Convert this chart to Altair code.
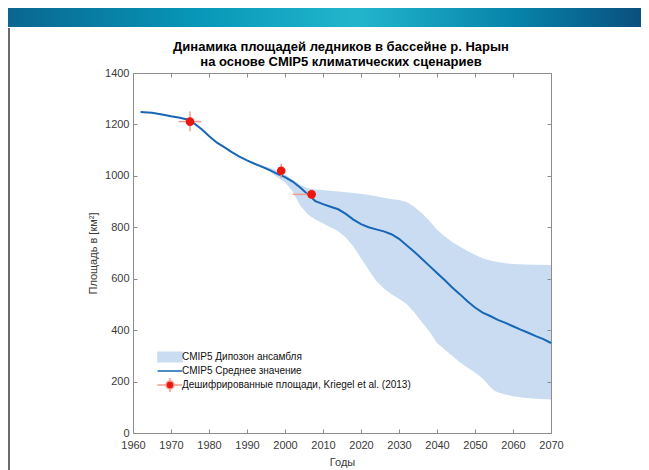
import altair as alt
import pandas as pd

# ---------------- data ----------------
mean_years = [1962, 1965, 1968, 1970, 1972, 1974, 1975, 1976, 1978, 1980, 1982, 1984, 1986,
              1988, 1990, 1992, 1994, 1996, 1998, 2000, 2002, 2004, 2006, 2008, 2010, 2012,
              2014, 2016, 2018, 2020, 2022, 2024, 2026, 2028, 2030, 2032, 2034, 2036, 2038,
              2040, 2042, 2044, 2046, 2048, 2050, 2052, 2054, 2056, 2058, 2060, 2062, 2064,
              2066, 2068, 2070]
mean_vals = [1248, 1245, 1238, 1232, 1227, 1220, 1213, 1205, 1182, 1155, 1130, 1112, 1092,
             1075, 1060, 1047, 1035, 1022, 1008, 995, 978, 955, 928, 902, 890, 880,
             870, 852, 830, 812, 800, 792, 784, 773, 755, 730, 705, 678, 650,
             622, 595, 566, 540, 512, 488, 468, 455, 440, 428, 415, 402, 390,
             377, 365, 350]

band_years = [1993, 1996, 1998, 2000, 2002, 2004, 2006, 2008, 2010, 2012, 2014, 2016, 2018,
              2020, 2022, 2024, 2026, 2028, 2030, 2032, 2034, 2036, 2038, 2040, 2042, 2044,
              2046, 2048, 2050, 2052, 2054, 2055, 2056, 2058, 2060, 2063, 2066, 2070]
band_upper = [1045, 1032, 1020, 1005, 985, 965, 952, 947, 945, 942, 939, 936, 933,
              930, 926, 921, 915, 910, 906, 898, 880, 855, 825, 790, 765, 743,
              725, 708, 693, 680, 671, 668, 665, 660, 657, 655, 654, 653]
band_lower = [1040, 1015, 995, 975, 940, 885, 850, 830, 815, 800, 785, 760, 725,
              680, 635, 592, 562, 540, 522, 502, 470, 432, 395, 350, 325, 300,
              275, 255, 235, 212, 180, 165, 158, 150, 143, 137, 133, 130]

obs_years = [1975, 1999, 2007]
obs_vals = [1211, 1020, 928]
obs_x_lo = [1972, 1998.5, 2002]
obs_x_hi = [1978, 1999.5, 2008]
obs_y_lo = [1173, 993, 910]
obs_y_hi = [1250, 1047, 946]

legend_labels = ["CMIP5 Дипозон ансамбля", "CMIP5 Среднее значение",
                 "Дешифрированные площади, Kriegel et al. (2013)"]
title_line1 = "Динамика площадей ледников в бассейне р. Нарын"
title_line2 = "на основе CMIP5 климатических сценариев"
x_ticks = list(range(1960, 2071, 10))
y_ticks = list(range(0, 1401, 200))

# ---------------- style ----------------
F = "Liberation Sans"
BOX = "#8c8c8c"
LAB = "#3a3a3a"
BAND = "#c9dcf2"
LINE = "#1866b6"
RED = "#e8180f"
ERR = "#f29a90"

mean_df = pd.DataFrame({"year": mean_years, "area": mean_vals})
band_df = pd.DataFrame({"year": band_years, "lo": band_lower, "hi": band_upper})
obs_df = pd.DataFrame({"year": obs_years, "area": obs_vals, "xlo": obs_x_lo,
                       "xhi": obs_x_hi, "ylo": obs_y_lo, "yhi": obs_y_hi})
leg_df = pd.DataFrame({"label": legend_labels})
one = pd.DataFrame({"k": [0]})

xs = alt.Scale(domain=[1960, 2070], nice=False, zero=False)
ys = alt.Scale(domain=[0, 1400], nice=False)

common_axis = dict(domain=False, tickSize=4, offset=-4, tickColor=BOX, grid=False,
                   labelFont=F, labelFontSize=11, labelColor=LAB, labelFlush=False,
                   labelOverlap=False, titleFont=F, titleFontSize=11,
                   titleFontWeight="normal", titleColor=LAB, zindex=1)

x_bottom = alt.Axis(orient="bottom", values=x_ticks, format="d", labelPadding=6,
                    title="Годы", titlePadding=6, **common_axis)
y_left = alt.Axis(orient="left", values=y_ticks, format="d", labelPadding=4,
                  title="Площадь в [км²]", titlePadding=6, **common_axis)
x_top = alt.Axis(orient="top", values=x_ticks, labels=False, title=None, **common_axis)
y_right = alt.Axis(orient="right", values=y_ticks, labels=False, title=None, **common_axis)

header = alt.Chart(one).mark_rect(
    color=alt.LinearGradient(
        gradient="linear", x1=0, x2=1, y1=0, y2=0,
        stops=[alt.GradientStop(offset=0, color="#0a6690"),
               alt.GradientStop(offset=0.3, color="#0797b8"),
               alt.GradientStop(offset=0.55, color="#22b6cc"),
               alt.GradientStop(offset=0.8, color="#0784aa"),
               alt.GradientStop(offset=1, color="#0a4f7e")])
).encode(x=alt.value(-125), x2=alt.value(508), y=alt.value(-65), y2=alt.value(-46))

side = alt.Chart(one).mark_rect(color="#6a6a6a").encode(
    x=alt.value(-125), x2=alt.value(-123), y=alt.value(-45), y2=alt.value(400))

t1 = alt.Chart(one).mark_text(font=F, fontSize=13, fontWeight="bold", color="#000000",
                              align="center", baseline="middle", text=title_line1).encode(
    x=alt.value(208), y=alt.value(-26))
t2 = alt.Chart(one).mark_text(font=F, fontSize=13, fontWeight="bold", color="#000000",
                              align="center", baseline="middle", text=title_line2).encode(
    x=alt.value(208), y=alt.value(-11))

band = alt.Chart(band_df).mark_area(color=BAND, opacity=1).encode(
    x=alt.X("year:Q", scale=xs, axis=x_bottom),
    y=alt.Y("lo:Q", scale=ys, axis=y_left),
    y2="hi:Q")

line = alt.Chart(mean_df).mark_line(color=LINE, strokeWidth=2).encode(
    x=alt.X("year:Q", scale=xs, axis=x_top),
    y=alt.Y("area:Q", scale=ys, axis=y_right))

err_h = alt.Chart(obs_df).mark_rule(color=ERR, strokeWidth=1.5).encode(
    x=alt.X("xlo:Q", scale=xs, axis=None), x2="xhi:Q",
    y=alt.Y("area:Q", scale=ys, axis=None))
err_v = alt.Chart(obs_df).mark_rule(color=ERR, strokeWidth=1.5).encode(
    x=alt.X("year:Q", scale=xs, axis=None),
    y=alt.Y("ylo:Q", scale=ys, axis=None), y2="yhi:Q")
pts = alt.Chart(obs_df).mark_point(filled=True, color=RED, size=75, opacity=1).encode(
    x=alt.X("year:Q", scale=xs, axis=None),
    y=alt.Y("area:Q", scale=ys, axis=None))

shape_band = "M-2.4,-0.95H2.4V0.95H-2.4Z"
shape_line = "M-2.5,0H2.4"
shape_pt = ("M-0.8,0A0.8,0.8 0 1,0 0.8,0A0.8,0.8 0 1,0 -0.8,0Z "
            "M-2.5,0H-0.8M0.8,0H2.4M0,-1.4V-0.8M0,0.8V1.4")

leg = alt.Legend(orient="none", legendX=31, legendY=278, title=None, padding=0,
                 labelFont=F, labelFontSize=10, labelColor="#111111", symbolSize=100,
                 symbolStrokeWidth=1.5, rowPadding=-1, labelOffset=6, symbolOpacity=1,
                 labelLimit=400)

legend_layer = alt.Chart(leg_df).transform_filter("false").mark_point(
    filled=True, size=100).encode(
    fill=alt.Fill("label:N", scale=alt.Scale(domain=legend_labels,
                                             range=[BAND, "transparent", RED]), legend=leg),
    stroke=alt.Stroke("label:N", scale=alt.Scale(domain=legend_labels,
                                                 range=[BAND, LINE, ERR]), legend=leg),
    shape=alt.Shape("label:N", scale=alt.Scale(domain=legend_labels,
                                               range=[shape_band, shape_line, shape_pt]),
                    legend=leg))

chart = alt.layer(header, side, t1, t2, band, line, err_h, err_v, pts,
                  legend_layer).resolve_axis(
    x="independent", y="independent"
).properties(
    width=418, height=360,
    autosize=alt.AutoSizeParams(type="none"),
    padding={"left": 125, "top": 65, "right": 90, "bottom": 37},
    background="white",
).configure_view(stroke=BOX, strokeWidth=1)

chart.save("out.html", embed_options={"renderer": "svg", "actions": False})
